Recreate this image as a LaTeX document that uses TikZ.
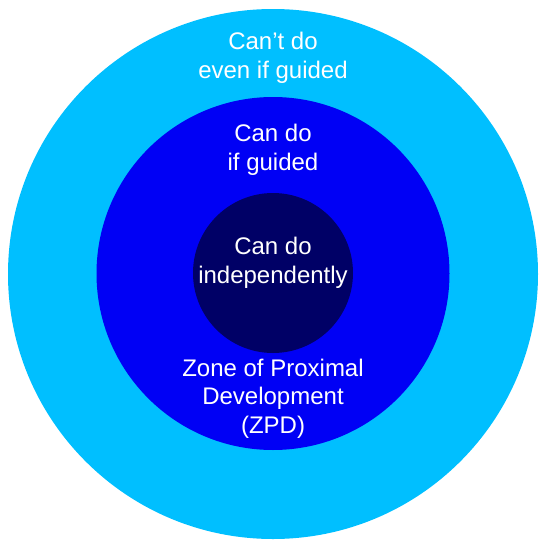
\documentclass[tikz,border=0pt]{standalone}
\usepackage{fontspec}
\setmainfont{Liberation Sans}
\usepackage{tikz}
\definecolor{skyring}{HTML}{00BFFF}
\definecolor{zpdring}{HTML}{0000F5}
\definecolor{corering}{HTML}{000066}
\tikzset{
  ring/.style={circle, draw=none, inner sep=0pt},
  lab/.style={text=white, align=center, anchor=base, inner sep=0pt,
    font=\fontsize{24}{28.5}\selectfont},
}
\begin{document}
\begin{tikzpicture}[x=1pt, y=-1pt]
    \useasboundingbox (0,0) rectangle (544,544);
    % rings
    \node[ring, fill=skyring, minimum size=530pt] (outer) at (273,274) {};
    \node[ring, fill=zpdring, minimum size=353pt] (zpd) at (273,273.5) {};
    \node[ring, fill=corering, minimum size=160pt] (core) at (273,273) {};
    % labels (anchored at the baseline of their last line)
    \node[lab] (cant)  at (273,78)  {Can't do\\even if guided};
    \node[lab] (guide) at (273,170) {Can do\\if guided};
    \node[lab] (indep) at (273,283) {Can do\\independently};
    \node[lab] (zone)  at (273,433) {Zone of Proximal\\Development\\(ZPD)};
\end{tikzpicture}
\end{document}
